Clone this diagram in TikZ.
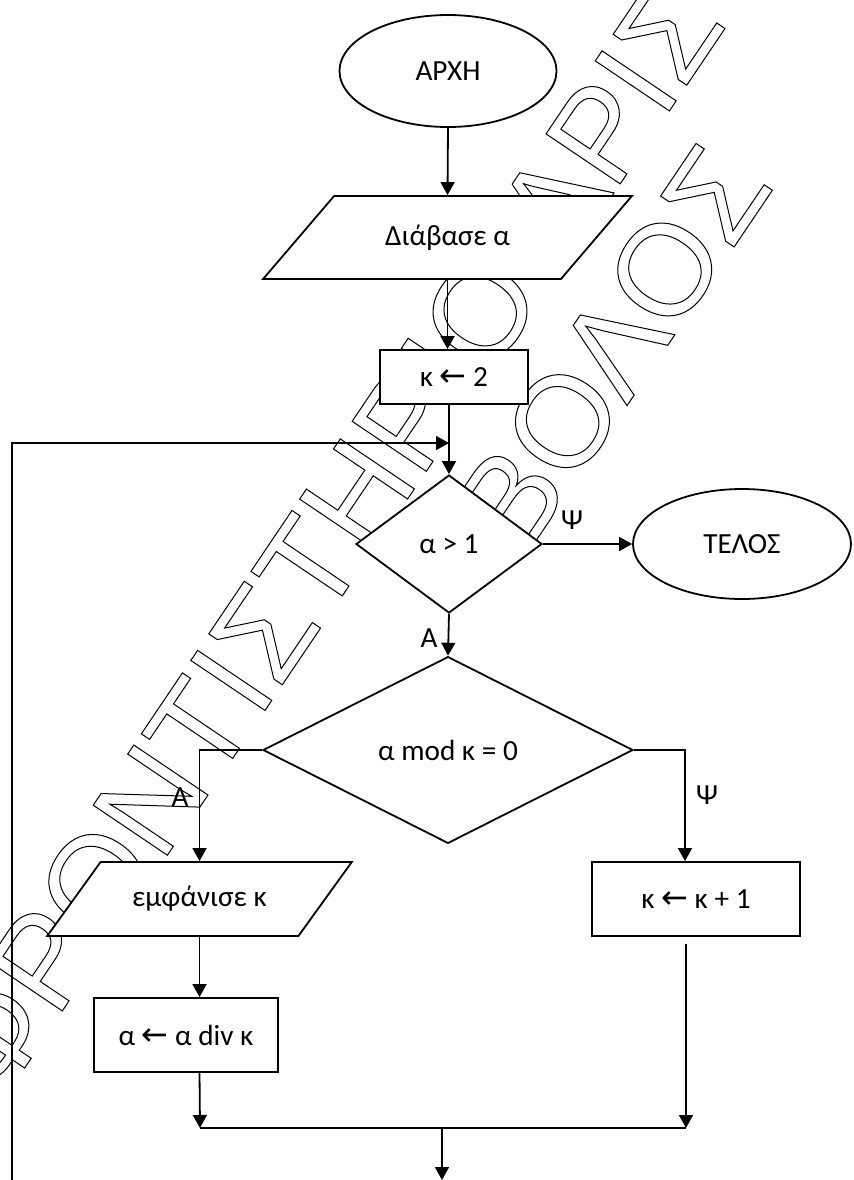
\documentclass[tikz,border=0pt]{standalone}
\usepackage{fontspec}
\setmainfont{Carlito}
\newfontfamily\symfont{DejaVu Sans}
\newfontfamily\wmfont{Liberation Sans}
\usetikzlibrary{shapes.geometric,arrows.meta}
\newcommand{\larr}{{\symfont\fontsize{16}{16}\selectfont ←}}
\newcommand{\outlined}[1]{\special{pdf:literal direct 1 Tr 0.5 w}#1\special{pdf:literal direct 0 Tr}}

\begin{document}
\begin{tikzpicture}[x=0.5pt,y=-0.5pt,line width=0.9pt,
	every node/.style={font=\fontsize{14.6}{17}\selectfont},
	term/.style={draw,fill=white,ellipse,minimum width=108.5pt,minimum height=56pt},
	io/.style={draw,fill=white,trapezium,trapezium stretches=true,trapezium left angle=42,trapezium right angle=138},
	proc/.style={draw,fill=white,rectangle},
	dec/.style={draw,fill=white,diamond},
	arr/.style={-{Triangle[length=6.5pt,width=7pt]}},
	lbl/.style={inner sep=1pt},
	wm/.style={rotate=56,inner sep=0pt,font=\wmfont\fontsize{65}{65}\selectfont}]
	\useasboundingbox (0,0) rectangle (853,1180);
	% watermark
	\node[wm] (wmtop) at (326,540) {\outlined{ΦΡΟΝΤΙΣΤΗΡΙΟ ΑΡΙΣ}};
	\node[wm] (wmbot) at (612,348) {\outlined{ΒΟΛΟΣ}};
	% blocks
	\node[term] (start) at (448,71) {ΑΡΧΗ};
	\node[io,minimum width=184.5pt,minimum height=41.5pt] (read) at (447.5,237.5) {Διάβασε α};
	\node[proc,minimum width=74pt,minimum height=27pt] (init) at (454,377) {κ \larr\ 2};
	\node[dec,minimum width=93pt,minimum height=69pt] (test) at (449,544) {α > 1};
	\node[term,minimum width=109pt,minimum height=55pt] (stop) at (742,544) {ΤΕΛΟΣ};
	\node[dec,minimum width=185pt,minimum height=70pt] (divides) at (448,750) {α mod κ = 0};
	\node[io,trapezium left angle=44,trapezium right angle=136,minimum width=152.5pt,minimum height=37pt] (show) at (199.5,899) {εμφάνισε κ};
	\node[proc,minimum width=92pt,minimum height=37pt] (divide) at (186,1035) {α \larr\ α div κ};
	\node[proc,minimum width=104pt,minimum height=37pt] (next) at (696,899) {κ \larr\ κ + 1};
	% labels
	\node[lbl] (no1) at (572,520) {Ψ};
	\node[lbl] (yes1) at (429,638) {Α};
	\node[lbl] (yes2) at (180,797) {Α};
	\node[lbl] (no2) at (707,795) {Ψ};
	% free ends
	\coordinate (loopin) at (449,443);
	\coordinate (back) at (12,1180);
	\coordinate (joinL) at (200,1128);
	\coordinate (joinR) at (686,1128);
	\coordinate (joinM) at (442,1128);
	\coordinate (out) at (442,1180);
	% connectors
	\draw[arr] (start.south) -- (read.north);
	\draw[arr] (read.south) -- (read.south |- init.north);
	\draw[arr] (init.south -| loopin) -- (test.north);
	\draw[arr] (back) |- (loopin);
	\draw[arr] (test.east) -- (stop.west);
	\draw[arr] (test.south) -- (divides.north);
	\draw[arr] (divides.west) -| (show.north);
	\draw[arr] (divides.east) -| ([xshift=-5.5pt]next.north);
	\draw[arr] (show.south) -- (show.south |- divide.north);
	\draw[arr] (show.south |- divide.south) -- (joinL);
	\draw[arr] ([xshift=-5pt,yshift=-3.5pt]next.south) -- (joinR);
	\draw (joinL) -- (joinR);
	\draw[arr] (joinM) -- (out);
\end{tikzpicture}
\end{document}
